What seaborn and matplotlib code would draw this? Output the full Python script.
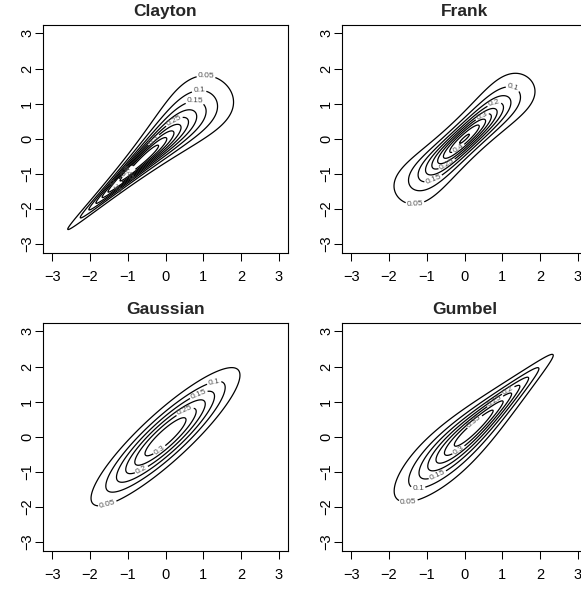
import math
import numpy as np
import matplotlib
matplotlib.use("Agg")
import matplotlib.pyplot as plt
import seaborn as sns

# copula families (Kendall's tau about 0.7) with N(0,1) margins
copula_names = ["Clayton", "Frank", "Gaussian", "Gumbel"]
copula_params = [4.667, 11.41, 0.889, 3.333]
contour_levels = [0.05, 0.1, 0.15, 0.2, 0.25, 0.3, 0.35, 0.4, 0.45, 0.5, 0.55, 0.6]
tick_values = [-3, -2, -1, 0, 1, 2, 3]

# where each contour label sits (level -> x, y)
label_spots = {
    "Clayton": {0.05: (1.07, 1.71), 0.1: (0.89, 1.34), 0.15: (0.78, 0.94),
                0.25: (0.25, 0.46), 0.3: (-0.25, -0.1), 0.4: (-1.0, -0.95),
                0.45: (-1.45, -1.35), 0.35: (-1.8, -1.7)},
    "Frank": {0.05: (-1.31, -1.83), 0.1: (1.26, 1.37), 0.15: (-0.83, -1.14),
              0.2: (0.81, 0.91), 0.25: (-0.49, -0.69), 0.3: (0.47, 0.63),
              0.4: (-0.15, -0.3)},
    "Gaussian": {0.05: (-1.54, -1.91), 0.1: (1.29, 1.53), 0.15: (0.87, 1.22),
                 0.2: (-0.65, -0.91), 0.25: (0.54, 0.67), 0.3: (-0.17, -0.36)},
    "Gumbel": {0.05: (-1.49, -1.80), 0.1: (-1.23, -1.43), 0.15: (-0.72, -1.08),
               0.2: (1.15, 1.33), 0.25: (0.81, 1.01), 0.3: (-0.17, -0.36),
               0.35: (0.28, 0.41)},
}

sns.set_theme(style="ticks")
plt.rcParams["font.family"] = ["Liberation Sans", "DejaVu Sans"]
plt.rcParams["axes.linewidth"] = 0.8


def std_norm_pdf(x):
    return np.exp(-0.5 * x ** 2) / math.sqrt(2 * math.pi)


def std_norm_cdf(x):
    return 0.5 * (1 + np.vectorize(math.erf)(x / math.sqrt(2)))


def copula_density(name, th, u, v, x, y):
    if name == "Clayton":
        return (1 + th) * (u * v) ** (-1 - th) * (u ** -th + v ** -th - 1) ** (-2 - 1 / th)
    if name == "Frank":
        num = th * (1 - np.exp(-th)) * np.exp(-th * (u + v))
        den = ((1 - np.exp(-th)) - (1 - np.exp(-th * u)) * (1 - np.exp(-th * v))) ** 2
        return num / den
    if name == "Gumbel":
        a, b = -np.log(u), -np.log(v)
        s = a ** th + b ** th
        C = np.exp(-s ** (1 / th))
        return C / (u * v) * (a * b) ** (th - 1) * s ** (2 / th - 2) * (1 + (th - 1) * s ** (-1 / th))
    # Gaussian: joint density divided by margins
    r = th
    q = (x ** 2 - 2 * r * x * y + y ** 2) / (1 - r ** 2)
    joint = np.exp(-q / 2) / (2 * math.pi * math.sqrt(1 - r ** 2))
    return joint / (std_norm_pdf(x) * std_norm_pdf(y))


grid = np.linspace(-3, 3, 401)
X, Y = np.meshgrid(grid, grid)
U, V = np.meshgrid(std_norm_cdf(grid), std_norm_cdf(grid))

W, H = 581, 591
fig = plt.figure(figsize=(W / 100, H / 100), dpi=100)
# panel boxes in pixels: left, top
boxes = [(43, 25), (342, 25), (43, 323), (342, 323)]
bw, bh = 245, 227.5

for name, th, (lx, ty) in zip(copula_names, copula_params, boxes):
    ax = fig.add_axes([lx / W, 1 - (ty + bh) / H, bw / W, bh / H])
    dens = copula_density(name, th, U, V, X, Y) * std_norm_pdf(X) * std_norm_pdf(Y)
    spots = label_spots[name]
    for lvl in contour_levels:
        if lvl >= np.nanmax(dens):
            continue
        cs = ax.contour(X, Y, dens, levels=[lvl], colors="black", linewidths=0.9)
        if lvl in spots:
            ax.clabel(cs, inline=True, fontsize=6, colors="#4d4d4d",
                      inline_spacing=2, fmt=lambda v: f"{v:g}", manual=[spots[lvl]])
    ax.set_xlim(-3.24, 3.24)
    ax.set_ylim(-3.24, 3.24)
    ax.set_xticks(tick_values)
    ax.set_yticks(tick_values)
    ax.tick_params(axis="both", direction="out", length=5.8, width=0.75,
                   labelsize=10.5, color="black", labelcolor="black")
    ax.tick_params(axis="x", pad=7)
    ax.tick_params(axis="y", pad=0.5)
    for lab in ax.get_yticklabels():
        lab.set_rotation(90)
        lab.set_va("center")
    for sp in ax.spines.values():
        sp.set_color("black")
        sp.set_visible(True)
    ax.set_title(name, fontsize=12.5, fontweight="bold", pad=6.5)

fig.savefig("out.png", dpi=100)
